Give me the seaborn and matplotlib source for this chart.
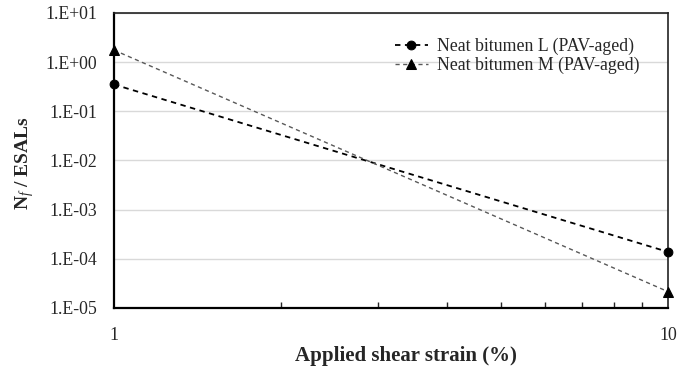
import numpy as np
import pandas as pd
import matplotlib
matplotlib.use('Agg')
import matplotlib.pyplot as plt
import seaborn as sns
from matplotlib.ticker import FixedLocator, NullFormatter

# data
strain = [1, 10]
nf_L = [0.35, 1.38e-4]
nf_M = [1.75, 2.15e-5]
y_ticks = [1e-5, 1e-4, 1e-3, 1e-2, 1e-1, 1e0, 1e1]
y_labels = ['1.E-05', '1.E-04', '1.E-03', '1.E-02', '1.E-01', '1.E+00', '1.E+01']
series_names = ['Neat bitumen L (PAV-aged)', 'Neat bitumen M (PAV-aged)']

df = pd.DataFrame({
    'strain': strain * 2,
    'nf': nf_L + nf_M,
    'series': [series_names[0]] * 2 + [series_names[1]] * 2,
})

sns.set_style('white')
plt.rcParams['font.family'] = ['Liberation Serif', 'DejaVu Serif']
plt.rcParams['mathtext.fontset'] = 'custom'
plt.rcParams['mathtext.rm'] = 'Liberation Serif'
plt.rcParams['mathtext.it'] = 'Liberation Serif:italic'
plt.rcParams['mathtext.bf'] = 'Liberation Serif:bold'

fig, ax = plt.subplots(figsize=(6.78, 3.67), dpi=100)

styles = {series_names[0]: dict(color='black', marker='o', lw=1.3, ms=6.3),
          series_names[1]: dict(color='#595959', marker='^', lw=1.0, ms=6.5)}
for name in series_names:
    sub = df[df['series'] == name]
    st = styles[name]
    sns.lineplot(data=sub, x='strain', y='nf', ax=ax, label=name,
                 color=st['color'], lw=st['lw'], linestyle=(0, (3, 2.5)),
                 marker=st['marker'], markersize=st['ms'],
                 markerfacecolor='black', markeredgecolor='black',
                 clip_on=False, zorder=5)

ax.set_xscale('log')
ax.set_yscale('log')
ax.set_xlim(1, 10)
ax.set_ylim(1e-5, 1e1)

ax.yaxis.set_major_locator(FixedLocator(y_ticks))
ax.set_yticklabels(y_labels)
ax.yaxis.set_minor_locator(FixedLocator([]))
ax.yaxis.set_minor_formatter(NullFormatter())
ax.xaxis.set_major_locator(FixedLocator([1, 10]))
ax.set_xticklabels(['1', '10'])
ax.xaxis.set_minor_locator(FixedLocator([2, 3, 4, 5, 6, 7, 8, 9]))
ax.xaxis.set_minor_formatter(NullFormatter())

ax.tick_params(axis='y', which='major', length=0, labelsize=12.8, pad=12)
ax.tick_params(axis='x', which='major', length=0, labelsize=12.8, pad=14)
ax.tick_params(axis='x', which='minor', direction='in', length=4, width=1, bottom=True)

ax.grid(True, axis='y', which='major', color='#d9d9d9', lw=1)
ax.grid(False, axis='x')

for side in ['left', 'bottom']:
    ax.spines[side].set_linewidth(1.6)
    ax.spines[side].set_color('black')
for side in ['top', 'right']:
    ax.spines[side].set_linewidth(1.2)
    ax.spines[side].set_color('#222222')

ax.set_xlabel('Applied shear strain (%)', fontsize=15, fontweight='bold')
ax.xaxis.set_label_coords(0.527, -0.128)
ax.set_ylabel(r'$\mathbf{N}_{\mathit{f}}$ / ESALs', fontsize=14, fontweight='bold')
ax.yaxis.set_label_coords(-0.140, 0.49)

leg = ax.legend(loc='upper left', bbox_to_anchor=(0.507, 0.915), frameon=False,
                fontsize=12.8, handlelength=1.85, handletextpad=0.55,
                labelspacing=0.1, borderpad=0, borderaxespad=0)

fig.subplots_adjust(left=0.168, right=0.985, top=0.965, bottom=0.161)
fig.savefig('out.png', dpi=100)
